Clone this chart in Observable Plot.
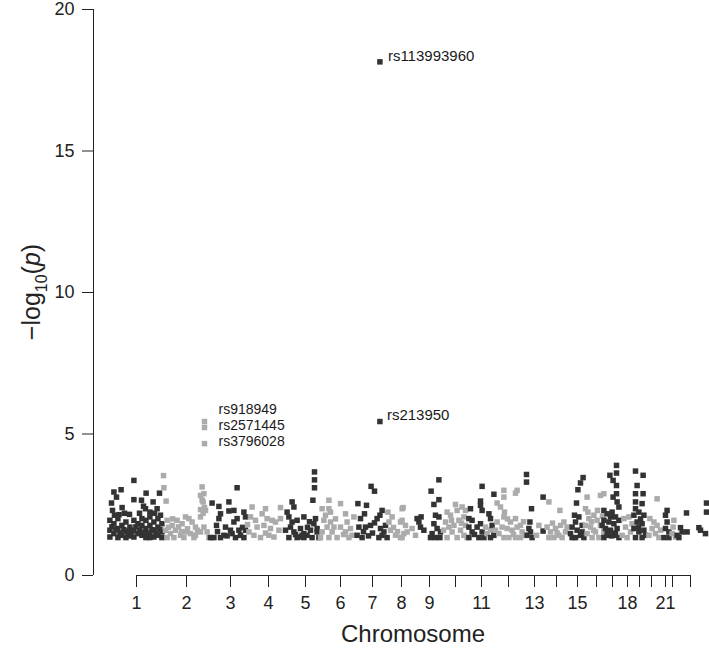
<!DOCTYPE html>
<html><head><meta charset="utf-8">
<script src="https://cdn.jsdelivr.net/npm/d3@7"></script>
<script src="https://cdn.jsdelivr.net/npm/@observablehq/plot@0.6"></script>
<style>body{margin:0;background:#fff;} svg{display:block;}</style>
</head><body><div id="chart"></div>
<script>
// Axis definitions (cumulative genomic position, Mb-like units)
const chromStarts = [215,465,685,875,1060,1235,1395,1540,1680,1810,1940,2075,2205,2315,2420,2515,2595,2670,2730,2790,2860,2895,2985];
const chromLabels = ["1","2","3","4","5","6","7","8","9","","11","","13","","15","","","18","","","21","",""];
const yTicks = [0,5,10,15,20];

// SNPs per chromosome segment: [position, -log10(p)]
const seg01 = [[202,3.36],[102,2.95],[138,3.03],[90,2.56],[115,2.77],[202,2.68],[263,2.91],[240,2.66],[298,2.60],[330,2.91],[143,2.40],[180,2.16],[260,2.36],[282,2.24],[318,2.36],[105,2.13],[335,2.13],
[82,1.95],[82,1.60],[82,1.36],[102,1.83],[102,1.48],[122,2.01],[122,1.66],[122,1.34],[142,1.77],[142,1.42],[162,1.89],[162,1.57],[162,1.34],[182,1.71],[182,1.40],[202,1.95],[202,1.60],[202,1.36],[222,1.83],[222,1.48],[242,2.01],[242,1.77],[242,1.42],[262,1.95],[262,1.66],[262,1.34],[282,2.07],[282,1.77],[282,1.48],[282,1.34],[302,1.89],[302,1.60],[302,1.36],[322,2.01],[322,1.71],[322,1.42],[342,1.83],[342,1.54],[342,1.34],
[92,1.72],[112,1.62],[132,1.50],[152,1.62],[172,1.52],[192,1.55],[212,1.72],[232,1.60],[252,1.52],[272,1.50],[292,1.62],[312,1.50],[332,1.62],[95,2.30],[155,2.20],[230,2.20],[250,2.45],[305,2.20],[128,2.15]];
const seg02 = [[350,3.53],[352,3.10],[363,2.63],[368,1.95],[393,1.77],[418,1.95],[443,1.83],[460,2.07],[477,2.01],[493,1.89],[510,1.71],[360,1.60],[385,1.48],[410,1.60],[435,1.42],[460,1.54],[485,1.48],[510,1.42],[535,1.54],[368,1.34],[402,1.34],[452,1.34],[502,1.34],[535,2.83],[535,2.33],[548,2.60],[543,3.13],[552,2.89],[543,2.66],[560,2.30],[535,2.07],[552,1.71],[568,1.54],[577,1.34],
[375,1.70],[425,1.72],[470,1.65],[520,1.60],[395,2.00],[440,1.55],[555,2.40],[548,2.20]];
const seg03 = [[718,3.10],[593,2.56],[627,2.44],[677,2.60],[635,2.18],[702,2.30],[677,2.28],[752,2.24],[760,2.07],[718,2.01],[702,1.89],[615,1.77],[627,2.01],[727,1.60],[685,1.60],[735,1.42],[602,1.34],[635,1.34],[693,1.48],[710,1.34],[752,1.34],[660,1.71],[585,1.34],[652,1.42],[760,1.60],[620,1.55],[668,1.40],[745,1.70]];
const seg04 = [[793,2.42],[860,2.36],[935,2.40],[785,2.07],[810,1.95],[843,2.18],[868,2.01],[818,1.71],[852,1.77],[885,1.66],[777,1.54],[802,1.42],[835,1.34],[877,1.42],[910,1.89],[927,1.60],[935,2.01],[902,1.36],[770,1.80],[860,1.50],[893,1.95]];
const seg05 = [[993,2.60],[1002,2.42],[968,2.24],[977,2.07],[993,1.89],[1018,1.95],[985,1.71],[960,1.60],[1002,1.54],[1035,1.66],[977,1.34],[1018,1.34],[1052,1.48],[1105,3.66],[1105,3.38],[1105,3.10],[1097,2.66],[1052,2.07],[1110,2.01],[1102,1.83],[1118,1.66],[1085,1.60],[1068,1.42],[1043,1.42],[1093,1.34],[1127,1.34],[1052,1.34],[1118,1.54],[1010,1.45],[1030,1.36],[1070,1.70],[1080,1.90]];
const seg06 = [[1177,2.66],[1235,2.54],[1177,2.36],[1185,2.24],[1143,2.36],[1160,2.13],[1152,1.95],[1185,1.89],[1168,1.71],[1143,1.54],[1193,1.54],[1177,1.34],[1235,1.71],[1260,2.18],[1268,1.89],[1285,1.66],[1260,1.54],[1293,1.42],[1302,2.07],[1277,1.34],[1218,1.34],[1202,1.71],[1135,1.34],[1210,2.00],[1250,1.45]];
const seg07 = [[1388,3.15],[1405,2.98],[1322,2.54],[1365,2.48],[1355,2.18],[1443,2.30],[1432,2.13],[1418,2.01],[1405,1.86],[1385,1.77],[1360,1.71],[1335,2.01],[1327,1.71],[1318,1.42],[1343,1.34],[1435,1.66],[1452,1.54],[1460,1.77],[1427,1.34],[1468,1.34],[1443,1.42],[1350,1.55],[1395,1.50],[1375,1.40]];
const seg08 = [[1472,2.24],[1493,2.07],[1477,1.89],[1485,1.60],[1535,1.89],[1543,2.36],[1552,1.48],[1535,1.34],[1510,1.42],[1548,2.40],[1543,1.95],[1560,1.77],[1568,1.54],[1593,1.66],[1610,1.42],[1543,1.34],[1500,1.70],[1520,1.55]];
const seg09 = [[1618,2.01],[1638,2.07],[1635,1.71],[1652,1.60],[1627,1.89],[1727,3.38],[1688,2.98],[1727,2.68],[1702,2.51],[1710,2.13],[1727,2.07],[1702,1.83],[1718,1.66],[1693,1.48],[1735,1.54],[1710,1.34],[1732,1.34],[1685,1.34]];
const seg10 = [[1810,2.51],[1843,2.42],[1818,2.30],[1860,2.30],[1768,2.24],[1785,2.13],[1760,1.89],[1777,1.71],[1802,1.77],[1827,1.95],[1852,2.07],[1793,1.54],[1835,1.60],[1860,1.77],[1768,1.34],[1818,1.34],[1852,1.42],[1868,1.34],[1750,1.60],[1790,1.95],[1840,1.85]];
const seg11 = [[1943,3.15],[1935,2.63],[1935,2.48],[1943,2.30],[1885,2.36],[1877,2.01],[1893,1.95],[1877,1.71],[1893,1.54],[1918,1.71],[1935,1.83],[1943,1.54],[1927,1.34],[1877,1.34],[1952,1.34],[1905,1.45]];
const seg12 = [[1960,1.71],[1968,1.48],[1985,1.60]];
const seg13 = [[2002,2.87],[1977,2.18],[1985,2.01],[1993,1.77],[2002,1.42],[1985,1.34]];
const seg14 = [[2052,3.01],[2052,2.77],[2018,2.56],[2035,2.42],[2052,2.07],[2018,1.89],[2043,1.71],[2027,1.48],[2052,1.34],[2055,2.24],[2118,3.01],[2110,2.91],[2110,2.01],[2068,1.66],[2093,1.60],[2118,1.71],[2143,1.54],[2077,1.34],[2110,1.34],[2135,1.34],[2160,1.42],[2085,1.89],[2135,1.77],[2010,1.60],[2100,1.45],[2070,2.00],[2150,1.90]];
const seg15 = [[2165,3.57],[2165,3.30],[2190,2.36],[2177,1.66],[2185,1.54],[2168,1.42],[2193,1.34],[2182,1.89]];
const seg16 = [[2215,1.42],[2227,1.77]];
const seg17 = [[2248,2.77],[2248,1.57]];
const seg18 = [[2277,2.60],[2332,2.30],[2268,1.71],[2285,1.54],[2310,1.66],[2327,1.42],[2352,1.89],[2360,1.54],[2302,1.34],[2343,1.34],[2277,1.34],[2335,1.77],[2368,1.71],[2295,1.85],[2318,1.50]];
const seg19 = [[2448,3.46],[2435,3.27],[2422,3.03],[2415,2.56],[2405,2.13],[2410,1.89],[2427,2.07],[2393,1.71],[2418,1.60],[2443,1.77],[2385,1.48],[2410,1.34],[2435,1.42],[2452,1.34],[2393,1.34],[2443,1.54]];
const seg20 = [[2468,2.77],[2460,2.36],[2472,2.24],[2535,2.83],[2552,2.89],[2502,2.13],[2477,2.01],[2518,1.95],[2535,1.77],[2485,1.71],[2510,1.54],[2468,1.48],[2552,1.60],[2493,1.34],[2527,1.34],[2552,1.42],[2460,1.77],[2490,1.90],[2545,2.10],[2520,2.30],[2500,1.60]];
const seg21 = [[2615,3.89],[2615,3.62],[2582,3.54],[2598,3.36],[2615,3.18],[2615,2.89],[2598,2.77],[2618,2.60],[2627,2.42],[2552,2.30],[2568,2.18],[2593,2.24],[2610,2.07],[2552,1.95],[2577,1.89],[2602,1.83],[2627,1.95],[2560,1.66],[2585,1.60],[2618,1.66],[2568,1.42],[2602,1.42],[2552,1.34],[2627,1.34],[2543,1.77],[2585,2.07],[2590,1.40],[2610,1.50],[2570,1.55]];
const seg22 = [[2652,2.01],[2677,2.07],[2660,1.71],[2685,1.54],[2643,1.42],[2668,1.34],[2693,1.83]];
const seg23 = [[2710,3.69],[2748,3.54],[2718,3.18],[2710,2.89],[2748,2.89],[2710,2.60],[2710,2.36],[2743,2.54],[2727,2.24],[2702,2.13],[2752,2.13],[2718,1.89],[2743,1.83],[2702,1.66],[2727,1.54],[2752,1.60],[2710,1.34],[2743,1.34],[2760,1.42],[2735,2.00],[2725,1.70]];
const seg24 = [[2818,2.71],[2782,2.01],[2802,1.89],[2793,1.66],[2818,1.77],[2777,1.42],[2810,1.48],[2827,1.34],[2835,1.60]];
const seg25 = [[2868,2.30],[2860,2.13],[2868,1.89],[2860,1.66],[2877,1.54],[2852,1.34],[2877,1.34]];
const seg26 = [[2902,1.95],[2898,1.71],[2893,1.48],[2910,1.36]];
const seg27 = [[2965,2.21],[2935,1.69],[2943,1.54],[2918,1.42],[2968,1.54],[2927,1.34]];
const seg28 = [];
const seg29 = [[3065,2.56],[3065,2.24],[3027,1.69],[3035,1.60],[3060,1.48]];

// Annotated hits
const hitNames = ["rs113993960","rs213950","rs918949","rs2571445","rs3796028"];
const hitPos   = [1432,1432,555,555,555];
const hitLogp  = [18.15,5.44,5.44,5.23,4.66];
const hitShade = ["dark","dark","light","light","light"];

const segments = [seg01,seg02,seg03,seg04,seg05,seg06,seg07,seg08,seg09,seg10,seg11,seg12,seg13,seg14,seg15,seg16,seg17,seg18,seg19,seg20,seg21,seg22,seg23,seg24,seg25,seg26,seg27,seg28,seg29];
const snps = segments.flatMap((seg, i) => seg.map(([pos, logp]) => ({pos, logp, shade: i % 2 === 0 ? "dark" : "light"})));
const hits = hitNames.map((name, i) => ({name, pos: hitPos[i], logp: hitLogp[i], shade: hitShade[i]}));
const labelByStart = new Map(chromStarts.map((d, i) => [d, chromLabels[i]]));

const font = "'Liberation Sans', Arial, Helvetica, sans-serif";
const ink = "#222";
const labelOffsets = [[8,-6],[7,-6],[14,-12],[14,-2],[14,-2]];
const labelSizes = [15,15,14,14,14];

const plot = Plot.plot({
  width: 709, height: 652,
  marginLeft: 93, marginRight: 0, marginTop: 9, marginBottom: 77,
  x: {domain: [0, 3080], axis: null},
  y: {domain: [0, 20], axis: null},
  color: {type: "ordinal", domain: ["dark","light"], range: ["#333333","#ababab"]},
  style: {fontFamily: font, color: ink, background: "white"},
  marks: [
    Plot.ruleX([0], {y1: 0, y2: 20, stroke: ink}),
    Plot.axisY({ticks: yTicks, tickSize: 11, tickPadding: 8, fontSize: 18, label: null, stroke: ink}),
    Plot.ruleY([0], {x1: chromStarts[0], x2: chromStarts[chromStarts.length - 1], stroke: ink}),
    Plot.axisX({ticks: chromStarts, tickFormat: d => labelByStart.get(d), tickSize: 12, tickPadding: 9, fontSize: 18, label: null, stroke: ink}),
    Plot.dot(snps, {x: "pos", y: "logp", fill: "shade", symbol: "square", r: 3.1}),
    Plot.dot(hits, {x: "pos", y: "logp", fill: "shade", symbol: "square", r: 3.1}),
    ...hits.map((h, i) => Plot.text([h], {x: "pos", y: "logp", text: "name", textAnchor: "start", dx: labelOffsets[i][0], dy: labelOffsets[i][1], fontSize: labelSizes[i], fill: "#1a1a1a"}))
  ]
});
document.getElementById("chart").append(plot);

const svg = d3.select(plot);
const xs = plot.scale("x"), ys = plot.scale("y");
svg.append("text")
  .attr("x", xs.apply((chromStarts[0] + chromStarts[chromStarts.length - 1]) / 2))
  .attr("y", ys.apply(0) + 59)
  .attr("dy", "0.35em")
  .attr("text-anchor", "middle")
  .attr("font-family", font).attr("font-size", 24).attr("fill", ink)
  .text("Chromosome");

const yt = svg.append("text")
  .attr("transform", `translate(40,${ys.apply(10)}) rotate(-90)`)
  .attr("text-anchor", "middle")
  .attr("font-family", font).attr("font-size", 25).attr("fill", ink);
yt.append("tspan").text("\u2212log");
yt.append("tspan").attr("font-size", 16).attr("dy", 7).text("10");
yt.append("tspan").attr("dy", -7).text("(");
yt.append("tspan").attr("font-style", "italic").text("p");
yt.append("tspan").text(")");
</script>
</body></html>
